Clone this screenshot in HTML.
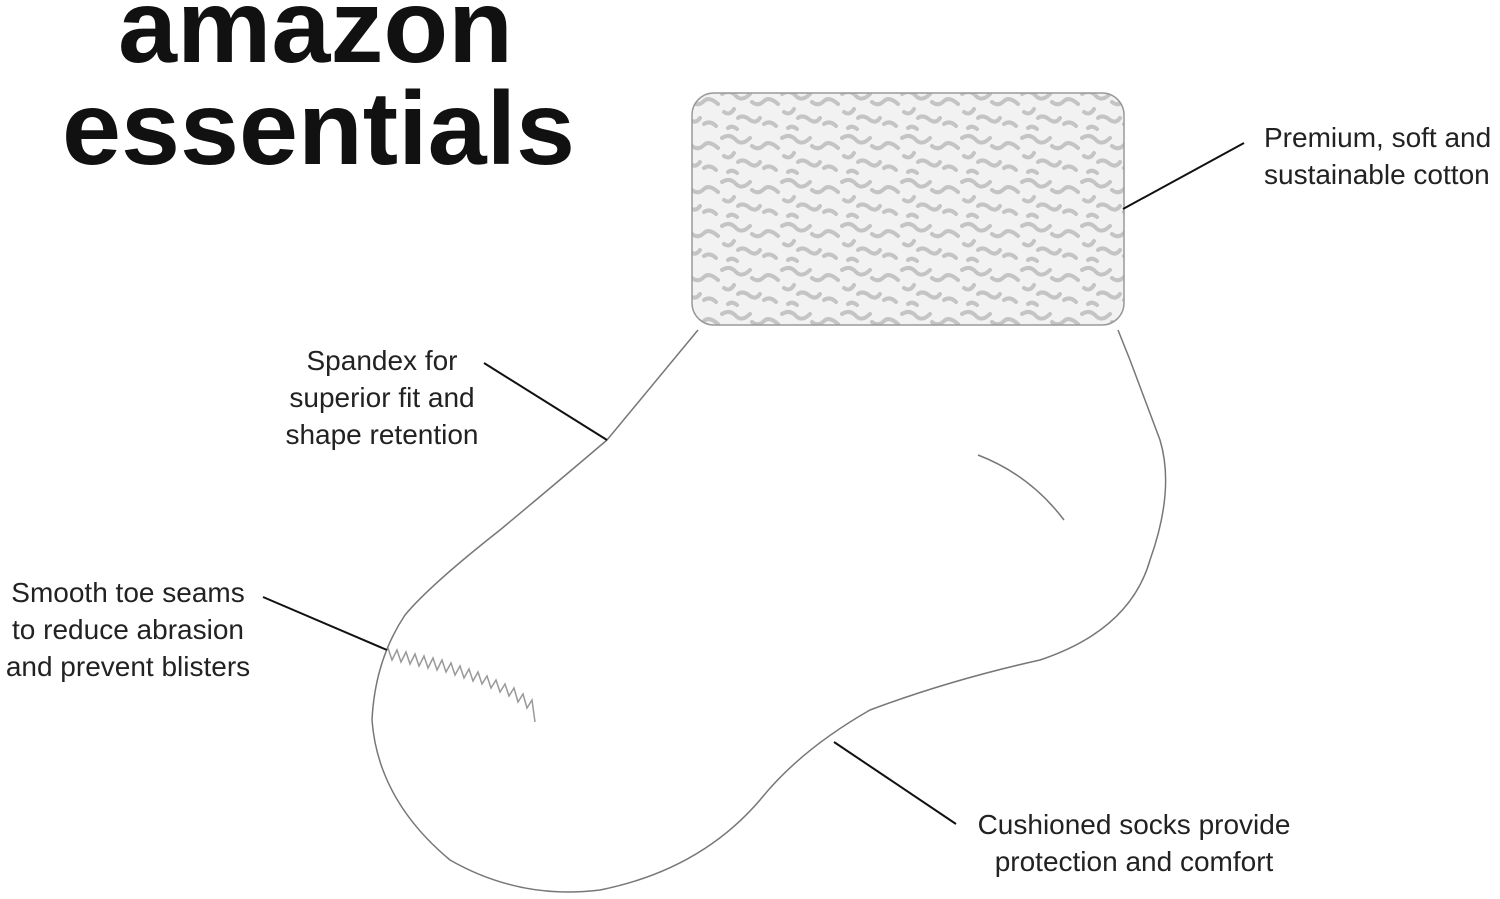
<!DOCTYPE html>
<html><head><meta charset="utf-8"><style>
html,body{margin:0;padding:0;background:#fff;}
body{width:1500px;height:899px;position:relative;overflow:hidden;font-family:"Liberation Sans",sans-serif;}
.logo{position:absolute;font-weight:bold;color:#111;font-size:104px;letter-spacing:0px;line-height:1;transform-origin:0 0;transform:scaleX(1.02);}
.lbl{position:absolute;font-size:28px;color:#222;line-height:37px;text-align:center;white-space:nowrap;}
</style></head><body>
<div class="logo" style="left:118px;top:-25px;">amazon</div>
<div class="logo" style="left:62px;top:77px;">essentials</div>
<svg width="1500" height="899" style="position:absolute;left:0;top:0">
<defs>
<pattern id="tx" width="60" height="44" patternUnits="userSpaceOnUse">
<rect width="60" height="44" fill="#f2f2f2"/>
<path d="M2 6 q8 -5 14 2 q6 6 14 -2 M32 14 q6 5 12 -1 q5 -5 14 3 M4 24 q6 4 10 -3 M18 30 q5 -4 12 2 q6 4 10 -2 M44 36 q6 -4 12 2 M8 40 q4 -3 9 1" stroke="#c4c4c4" stroke-width="4" fill="none" stroke-linecap="round"/>
</pattern>
</defs>
<rect x="692" y="93" width="432" height="232" rx="22" fill="url(#tx)" stroke="#999" stroke-width="1.5"/>
<path d="M698 330 L607 440 Q560 480 500 530 Q430 585 405 615 Q375 660 372 720 Q378 800 450 860 Q520 900 600 890 Q700 870 760 800 Q800 750 870 710 Q950 680 1040 660 Q1130 630 1150 560 Q1175 490 1160 440 L1130 360 L1118 330" fill="#fff" stroke="#777" stroke-width="1.5"/>
<path d="M978 455 Q1030 475 1064 520" fill="none" stroke="#777" stroke-width="1.5"/>
<polyline fill="none" stroke="#999" stroke-width="1.5" points="388,648 392,660 397,650 401,662 406,652 410,664 415,654 419,666 424,656 428,668 433,658 437,670 442,660 446,672 451,663 455,675 460,666 464,678 469,669 473,681 478,672 482,684 487,676 491,688 496,680 500,692 505,684 509,696 514,688 518,702 523,694 527,708 532,700 535,722"/>
<g stroke="#111" stroke-width="2">
<line x1="1123" y1="209" x2="1244" y2="143"/>
<line x1="484" y1="363" x2="607" y2="440"/>
<line x1="263" y1="597" x2="387" y2="650"/>
<line x1="834" y1="742" x2="956" y2="824"/>
</g>
</svg>
<div class="lbl" style="left:1264px;top:119px;text-align:left;">Premium, soft and<br>sustainable cotton</div>
<div class="lbl" style="left:262px;top:342px;width:240px;">Spandex for<br>superior fit and<br>shape retention</div>
<div class="lbl" style="left:0px;top:574px;width:256px;">Smooth toe seams<br>to reduce abrasion<br>and prevent blisters</div>
<div class="lbl" style="left:964px;top:806px;width:340px;">Cushioned socks provide<br>protection and comfort</div>
</body></html>
